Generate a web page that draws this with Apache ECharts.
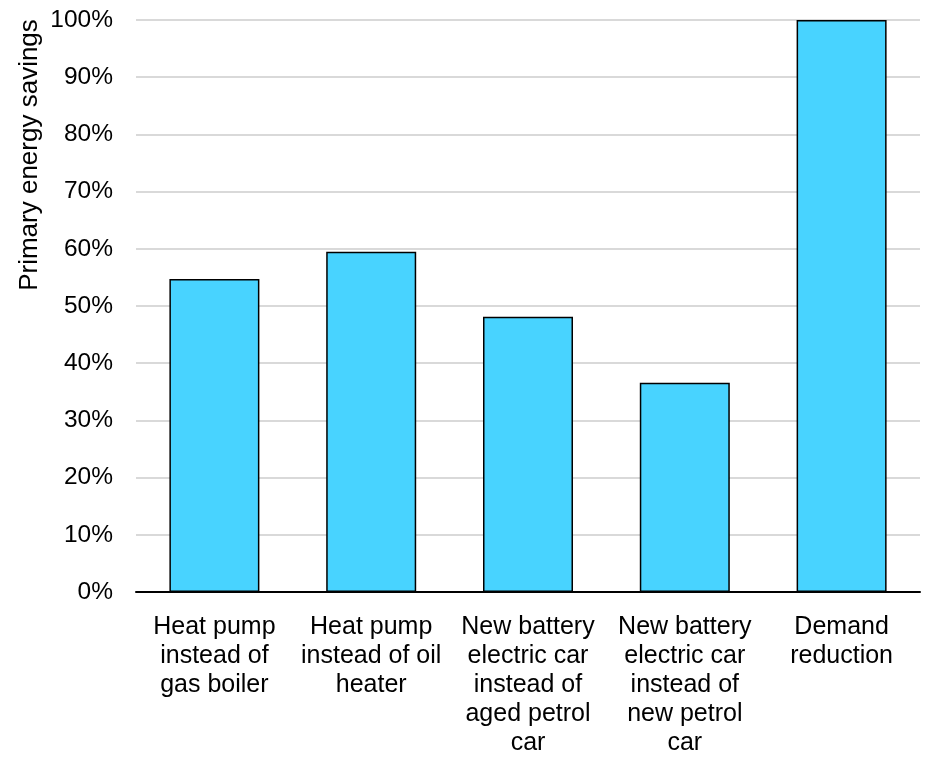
<!DOCTYPE html>
<html>
<head>
<meta charset="utf-8">
<script src="https://cdn.jsdelivr.net/npm/echarts@6/dist/echarts.min.js"></script>
<style>html,body{margin:0;padding:0;background:#fff}#c{width:925px;height:758px}</style>
</head>
<body>
<div id="c"></div>
<script>
const categories = [
  "Heat pump\ninstead of\ngas boiler",
  "Heat pump\ninstead of oil\nheater",
  "New battery\nelectric car\ninstead of\naged petrol\ncar",
  "New battery\nelectric car\ninstead of\nnew petrol\ncar",
  "Demand\nreduction"
];
const savings = [54.7, 59.5, 48.1, 36.6, 100];
const yAxisTitle = "Primary energy savings";

const chart = echarts.init(document.getElementById('c'), null, {renderer: 'canvas'});
chart.setOption({
  animation: false,
  backgroundColor: '#fff',
  textStyle: {fontFamily: 'Liberation Sans, Arial, sans-serif'},
  grid: {left: 136, right: 5, top: 20, bottom: 162},
  xAxis: {
    type: 'category',
    data: categories,
    axisLine: {lineStyle: {color: '#000', width: 2}},
    axisTick: {show: false},
    axisLabel: {color: '#000', fontSize: 25, lineHeight: 29, margin: 21, interval: 0, fontFamily: 'Liberation Sans, Arial, sans-serif'}
  },
  yAxis: {
    type: 'value',
    min: 0, max: 100, interval: 10,
    axisLine: {show: false},
    axisTick: {show: false},
    axisLabel: {color: '#000', fontSize: 24.5, margin: 23, formatter: v => v + '%', fontFamily: 'Liberation Sans, Arial, sans-serif'},
    splitLine: {lineStyle: {color: '#d9d9d9', width: 2}}
  },
  graphic: [{
    type: 'text',
    x: 30, y: 155,
    rotation: Math.PI / 2,
    style: {text: yAxisTitle, fill: '#000', font: '26px Liberation Sans, Arial, sans-serif', align: 'center', verticalAlign: 'middle'}
  }],
  series: [{
    type: 'bar',
    data: savings,
    barWidth: 90,
    itemStyle: {color: '#48d3ff', borderColor: '#000', borderWidth: 1.5}
  }]
});
</script>
</body>
</html>
